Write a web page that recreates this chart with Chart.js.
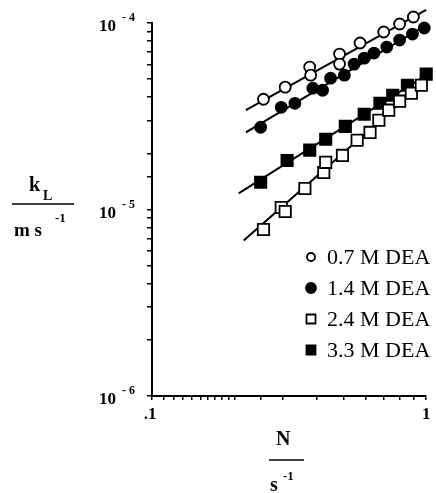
<!DOCTYPE html>
<html>
<head>
<meta charset="utf-8">
<script src="https://cdn.jsdelivr.net/npm/chart.js@4.4.1/dist/chart.umd.min.js"></script>
<style>
  html, body { margin: 0; padding: 0; background: #fff; }
  canvas { display: block; }
</style>
</head>
<body>
<canvas id="klChart" width="436" height="493"></canvas>
<script>
// series labels (legend order)
const seriesLabels = ["0.7 M DEA", "1.4 M DEA", "2.4 M DEA", "3.3 M DEA"];

// stirring speed N / s^-1 and k_L / m s^-1
const n07 = [0.255, 0.306, 0.376, 0.379, 0.483, 0.483, 0.574, 0.700, 0.800, 0.898];
const k07 = [3.90e-5, 4.53e-5, 5.80e-5, 5.25e-5, 6.81e-5, 6.02e-5, 7.81e-5, 8.95e-5, 9.88e-5, 1.077e-4];

const n14 = [0.249, 0.296, 0.332, 0.386, 0.419, 0.448, 0.503, 0.546, 0.594, 0.645, 0.718, 0.800, 0.891, 0.984];
const k14 = [2.76e-5, 3.53e-5, 3.71e-5, 4.47e-5, 4.36e-5, 5.06e-5, 5.25e-5, 6.02e-5, 6.48e-5, 6.90e-5, 7.43e-5, 8.10e-5, 8.72e-5, 9.40e-5];

const n24 = [0.255, 0.296, 0.306, 0.361, 0.423, 0.430, 0.495, 0.560, 0.624, 0.672, 0.730, 0.800, 0.883, 0.960];
const k24 = [7.81e-6, 1.025e-5, 9.75e-6, 1.297e-5, 1.58e-5, 1.79e-5, 1.95e-5, 2.35e-5, 2.59e-5, 3.01e-5, 3.41e-5, 3.81e-5, 4.20e-5, 4.64e-5];

const n33 = [0.249, 0.311, 0.376, 0.430, 0.507, 0.594, 0.678, 0.755, 0.854, 1.0];
const k33 = [1.40e-5, 1.83e-5, 2.08e-5, 2.38e-5, 2.79e-5, 3.24e-5, 3.71e-5, 4.10e-5, 4.64e-5, 5.32e-5];

// fitted straight lines (end points)
const fitN07 = [0.220, 1.0], fitK07 = [3.41e-5, 1.175e-4];
const fitN14 = [0.220, 1.0], fitK14 = [2.59e-5, 9.75e-5];
const fitN24 = [0.216, 1.0], fitK24 = [6.81e-6, 4.94e-5];
const fitN33 = [0.207, 1.0], fitK33 = [1.22e-5, 5.25e-5];

// axis ticks that get a label
const xTickValues = [0.1, 1];
const xTickLabels = [".1", "1"];
const yTickValues = [1e-4, 1e-5, 1e-6];

const SERIF = '"Liberation Serif", "DejaVu Serif", serif';

function pts(xs, ys) {
  return xs.map((v, i) => ({ x: v, y: ys[i] }));
}

function markerSet(label, xs, ys, style, fill) {
  return {
    label: label,
    data: pts(xs, ys),
    pointStyle: style,
    pointRadius: style === "rect" ? 8 : 5.5,
    pointBorderWidth: 1.8,
    pointBorderColor: "#000",
    pointBackgroundColor: fill,
    showLine: false,
    clip: false,
    order: 1
  };
}

function fitLine(xs, ys) {
  return {
    label: "",
    data: pts(xs, ys),
    showLine: true,
    borderColor: "#000",
    borderWidth: 2,
    pointRadius: 0,
    clip: false,
    order: 2,
    isFit: true
  };
}

// axis titles, superscript tick labels and legend
const decorPlugin = {
  id: "decor",
  afterDraw(chart) {
    const ctx = chart.ctx;
    const xs = chart.scales.x, ys = chart.scales.y;
    ctx.save();
    ctx.fillStyle = "#000";
    ctx.strokeStyle = "#000";

    // y tick labels 10^-n
    yTickValues.forEach(v => {
      const py = ys.getPixelForValue(v);
      const exp = Math.round(Math.log10(v));
      ctx.textBaseline = "middle";
      ctx.textAlign = "right";
      ctx.font = "bold 17px " + SERIF;
      ctx.fillText("10", 116, py + 4);
      ctx.textAlign = "left";
      ctx.font = "bold 12px " + SERIF;
      ctx.fillText("- " + Math.abs(exp), 122, py - 5);
    });

    // x tick labels
    xTickValues.forEach((v, i) => {
      const px = xs.getPixelForValue(v);
      ctx.textAlign = "center";
      ctx.textBaseline = "middle";
      ctx.font = "bold 17px " + SERIF;
      ctx.fillText(xTickLabels[i], px - (i === 0 ? 2 : 0), 415);
    });

    // y axis title  k_L / m s^-1
    ctx.textBaseline = "alphabetic";
    ctx.textAlign = "left";
    ctx.font = "bold 20px " + SERIF;
    ctx.fillText("k", 29, 191);
    ctx.font = "bold 14px " + SERIF;
    ctx.fillText("L", 43, 200);
    ctx.lineWidth = 1.6;
    ctx.beginPath(); ctx.moveTo(12, 204); ctx.lineTo(74, 204); ctx.stroke();
    ctx.font = "bold 19px " + SERIF;
    ctx.fillText("m s", 14, 236);
    ctx.font = "bold 13px " + SERIF;
    ctx.fillText("-1", 55, 222);

    // x axis title  N / s^-1
    ctx.font = "bold 20px " + SERIF;
    ctx.fillText("N", 276, 445);
    ctx.beginPath(); ctx.moveTo(269, 460); ctx.lineTo(304, 460); ctx.stroke();
    ctx.font = "bold 20px " + SERIF;
    ctx.fillText("s", 270, 491);
    ctx.font = "bold 13px " + SERIF;
    ctx.fillText("-1", 283, 480);

    // legend
    const rowY0 = 257, rowGap = 31;
    chart.data.datasets.filter(d => !d.isFit).forEach((d, i) => {
      const cy = rowY0 + i * rowGap;
      const cx = 311;
      ctx.lineWidth = 1.8;
      ctx.fillStyle = d.pointBackgroundColor;
      ctx.beginPath();
      if (d.pointStyle === "rect") {
        ctx.rect(cx - 4.5, cy - 4.5, 9, 9);
      } else {
        ctx.arc(cx, cy, d.pointBackgroundColor === "#fff" ? 4 : 5, 0, Math.PI * 2);
      }
      ctx.fill();
      ctx.stroke();
      ctx.fillStyle = "#000";
      ctx.font = "22px " + SERIF;
      ctx.textBaseline = "middle";
      ctx.fillText(d.label, 327, cy + 1);
    });
    ctx.restore();
  }
};

const ctx = document.getElementById("klChart").getContext("2d");
const klChart = new Chart(ctx, {
  type: "scatter",
  data: {
    datasets: [
      markerSet(seriesLabels[0], n07, k07, "circle", "#fff"),
      markerSet(seriesLabels[1], n14, k14, "circle", "#000"),
      markerSet(seriesLabels[2], n24, k24, "rect", "#fff"),
      markerSet(seriesLabels[3], n33, k33, "rect", "#000"),
      fitLine(fitN07, fitK07),
      fitLine(fitN14, fitK14),
      fitLine(fitN24, fitK24),
      fitLine(fitN33, fitK33)
    ]
  },
  options: {
    responsive: false,
    animation: false,
    layout: { padding: { top: 23, right: 2, left: 0, bottom: 0 } },
    plugins: {
      legend: { display: false },
      tooltip: { enabled: false }
    },
    scales: {
      x: {
        type: "logarithmic",
        min: 0.1,
        max: 1,
        afterFit: s => { s.height = 97; },
        border: { display: true, color: "#000", width: 2 },
        grid: { drawOnChartArea: false, drawTicks: true, tickLength: 4, color: "#000", lineWidth: 1.5 },
        ticks: { display: false, autoSkip: false }
      },
      y: {
        type: "logarithmic",
        min: 1e-6,
        max: 1e-4,
        afterFit: s => { s.width = 152; },
        border: { display: true, color: "#000", width: 2 },
        grid: { drawOnChartArea: false, drawTicks: true, tickLength: 5, color: "#000", lineWidth: 1.5 },
        ticks: { display: false, autoSkip: false }
      }
    }
  },
  plugins: [decorPlugin]
});
</script>
</body>
</html>
